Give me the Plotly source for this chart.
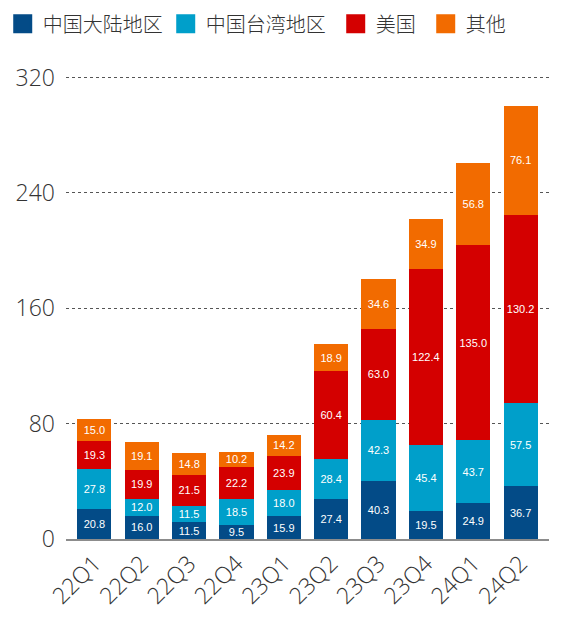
import plotly.graph_objects as go

quarters = ["22Q1", "22Q2", "22Q3", "22Q4", "23Q1", "23Q2", "23Q3", "23Q4", "24Q1", "24Q2"]
mainland = [20.8, 16.0, 11.5, 9.5, 15.9, 27.4, 40.3, 19.5, 24.9, 36.7]
taiwan = [27.8, 12.0, 11.5, 18.5, 18.0, 28.4, 42.3, 45.4, 43.7, 57.5]
usa = [19.3, 19.9, 21.5, 22.2, 23.9, 60.4, 63.0, 122.4, 135.0, 130.2]
other = [15.0, 19.1, 14.8, 10.2, 14.2, 18.9, 34.6, 34.9, 56.8, 76.1]
y_ticks = [0, 80, 160, 240, 320]

series = [
    ("中国大陆地区", mainland, "#034b87"),
    ("中国台湾地区", taiwan, "#009fca"),
    ("美国", usa, "#d40000"),
    ("其他", other, "#f26b00"),
]
legend_widths = [118, 125, 45, 45]

tick_font = dict(family="Open Sans", size=23, color="#333333", weight=300)

fig = go.Figure()

for name, vals, color in series:
    fig.add_trace(go.Bar(
        x=quarters, y=vals,
        name=name,
        marker=dict(color=color, line=dict(width=0)),
        text=[f"{v:.1f}" for v in vals],
        textposition="inside",
        insidetextanchor="middle",
        textangle=0,
        textfont=dict(family="Liberation Sans, Arial", size=11, color="white"),
        showlegend=False,
        hoverinfo="name+y",
    ))

# bigger square legend keys than the default bar swatch
for (name, vals, color), lw in zip(series, legend_widths):
    fig.add_trace(go.Scatter(
        x=[None], y=[None],
        mode="markers",
        name=name,
        legendwidth=lw,
        marker=dict(symbol="square", size=20, color=color,
                    line=dict(width=3, color=color)),
    ))

# page body adds an 8px margin, so the figure is 16px smaller than the window
fig.update_layout(
    width=545, height=609,
    barmode="stack",
    bargap=0.28,
    plot_bgcolor="white",
    paper_bgcolor="white",
    margin=dict(l=58, r=4, t=68, b=78, autoexpand=False),
    uniformtext=dict(minsize=11, mode="show"),
    font=dict(family="Liberation Sans, Arial, sans-serif", color="#333333"),
    legend=dict(
        orientation="h",
        traceorder="normal",
        x=-0.131, xref="paper", xanchor="left",
        y=1.155, yref="paper", yanchor="top",
        bgcolor="rgba(0,0,0,0)",
        font=dict(family="Noto Sans CJK SC", size=20, color="#333333", weight=300),
        itemsizing="trace",
        itemwidth=30,
    ),
    xaxis=dict(
        range=[-0.6, 9.6],
        tickangle=-45,
        tickfont=tick_font,
        showline=True, linecolor="#8c8c8c", linewidth=2,
        showgrid=False,
        ticks="",
        automargin=False,
        fixedrange=True,
    ),
    yaxis=dict(
        range=[0, 321],
        tickvals=y_ticks,
        tickfont=tick_font,
        showgrid=True, gridcolor="#555555", gridwidth=1, griddash="dot",
        zeroline=False,
        showline=False,
        ticks="",
        ticklabelstandoff=10,
        automargin=False,
        fixedrange=True,
    ),
)

fig.write_html("out.html")
